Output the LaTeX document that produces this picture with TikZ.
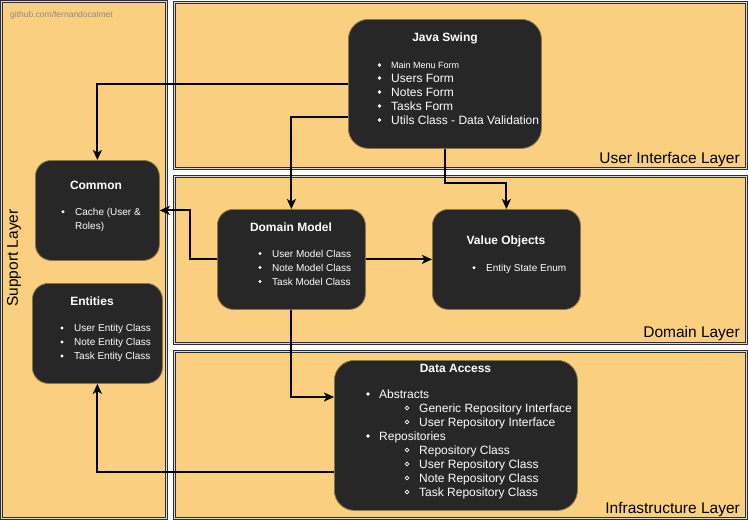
\documentclass[tikz,border=0pt]{standalone}
\usepackage{fontspec}
\setmainfont{Liberation Sans}
\usetikzlibrary{arrows.meta}
\definecolor{layerfill}{HTML}{FAD080}
\definecolor{layerdraw}{HTML}{2E2E2E}
\definecolor{layerinner}{HTML}{D8D8D8}
\definecolor{boxfill}{HTML}{272727}
\definecolor{boxdraw}{HTML}{8A7548}
\definecolor{gh}{HTML}{8A8A8A}
\tikzset{
  layerbox/.style={draw=layerdraw, line width=0.8pt, double=layerinner, double distance=0.7pt, fill=layerfill, inner sep=0pt, anchor=north west},
  darkbox/.style={draw=boxdraw, line width=0.8pt, fill=boxfill, rounded corners=16pt, inner sep=0pt, anchor=north west},
  titletext/.style={text=white, inner sep=0pt, font=\bfseries\fontsize{12}{14}\selectfont},
  itemL/.style={text=white, inner sep=0pt, anchor=base west, font=\fontsize{12}{14}\selectfont},
  itemS/.style={text=white, inner sep=0pt, anchor=base west, font=\fontsize{10}{12}\selectfont},
  itemXS/.style={text=white, inner sep=0pt, anchor=base west, font=\fontsize{9}{11}\selectfont},
  layerlabel/.style={inner sep=0pt, font=\fontsize{15.5}{18}\selectfont},
  conn/.style={line width=1.9pt, -{Stealth[length=10pt,width=9pt,inset=2.5pt]}},
  dotb/.style={fill=white},
  ringb/.style={draw=white, line width=0.6pt},
}
\begin{document}
\begin{tikzpicture}[x=1pt,y=-1pt]
\useasboundingbox (0,0) rectangle (748,520);
% layers
\node[layerbox, minimum width=165pt, minimum height=517pt] (support) at (1,1) {};
\node[layerbox, minimum width=572pt, minimum height=166pt] (uil) at (174,2) {};
\node[layerbox, minimum width=572pt, minimum height=167pt] (dol) at (174,176) {};
\node[layerbox, minimum width=572pt, minimum height=167pt] (infl) at (174,351) {};
\node[layerlabel, anchor=base east] (uilab) at (740,163) {User Interface Layer};
\node[layerlabel, anchor=base east] (dolab) at (740,337) {Domain Layer};
\node[layerlabel, anchor=base east] (inflab) at (740,513) {Infrastructure Layer};
\node[layerlabel, rotate=90] (suplab) at (14,258) {Support Layer};
\node[inner sep=0pt, anchor=base west, text=gh, font=\fontsize{8.5}{10}\selectfont] (gh) at (10,17) {github.com/fernandocalmet};

% boxes
\node[darkbox, rounded corners=20pt, minimum width=193pt, minimum height=129pt] (js) at (348,19) {};
\node[darkbox, minimum width=124pt, minimum height=100pt] (com) at (35,160) {};
\node[darkbox, minimum width=130pt, minimum height=100pt] (ent) at (32,283) {};
\node[darkbox, minimum width=148pt, minimum height=100pt] (dm) at (217,209) {};
\node[darkbox, minimum width=148pt, minimum height=100pt] (vo) at (432,209) {};
\node[darkbox, rounded corners=20pt, minimum width=243pt, minimum height=150pt] (da) at (334,360) {};

% Java Swing
\node[titletext] (jst) at (445,38) {Java Swing};
\node[itemXS] (js1) at (391,68.2) {Main Menu Form};
\node[itemL] (js2) at (391,82) {Users Form};
\node[itemL] (js3) at (391,96) {Notes Form};
\node[itemL] (js4) at (391,110) {Tasks Form};
\node[itemL] (js5) at (391,124) {Utils Class - Data Validation};
\foreach \yy in {65,78,92,106,120} \fill[dotb] (379.5,\yy) circle (1.8pt);

% Common
\node[titletext] (comt) at (96,185) {Common};
\node[itemS] (com1) at (75,215.3) {Cache (User \&};
\node[itemS] (com2) at (75,229.3) {Roles)};
\fill[dotb] (63,211.7) circle (1.6pt);

% Entities
\node[titletext] (entt) at (92,301) {Entities};
\node[itemS] (ent1) at (74,331.6) {User Entity Class};
\node[itemS] (ent2) at (74,345.6) {Note Entity Class};
\node[itemS] (ent3) at (74,359.6) {Task Entity Class};
\foreach \yy in {328,342,356} \fill[dotb] (62,\yy) circle (1.6pt);

% Domain Model
\node[titletext] (dmt) at (291,227) {Domain Model};
\node[itemS] (dm1) at (272,257) {User Model Class};
\node[itemS] (dm2) at (272,271) {Note Model Class};
\node[itemS] (dm3) at (272,285) {Task Model Class};
\foreach \yy in {253.5,267.5,281.5} \fill[dotb] (260,\yy) circle (1.6pt);

% Value Objects
\node[titletext] (vot) at (506,241) {Value Objects};
\node[itemS] (vo1) at (486,271.3) {Entity State Enum};
\fill[dotb] (474,267.7) circle (1.6pt);

% Data Access
\node[titletext] (dat) at (455.5,368) {Data Access};
\node[itemL] (da1) at (379,398) {Abstracts};
\node[itemL] (da2) at (419,412) {Generic Repository Interface};
\node[itemL] (da3) at (419,426) {User Repository Interface};
\node[itemL] (da4) at (379,440) {Repositories};
\node[itemL] (da5) at (419,454) {Repository Class};
\node[itemL] (da6) at (419,468) {User Repository Class};
\node[itemL] (da7) at (419,482) {Note Repository Class};
\node[itemL] (da8) at (419,496) {Task Repository Class};
\foreach \yy in {394,436} \fill[dotb] (368,\yy) circle (1.8pt);
\foreach \yy in {408,422,450,464,478,492} \draw[ringb] (407,\yy) circle (1.9pt);

% helper coordinates
\coordinate (c117) at (0,117);
\coordinate (c183) at (0,183);
\coordinate (c190) at (190,0);
\coordinate (c397) at (0,397);
\coordinate (c472) at (0,472);

% connectors
\draw[conn] (js.west) -| (com.north);
\draw[conn] (js.west |- c117) -| (dm.north);
\draw[conn] (js.south) -- (js.south |- c183) -| (vo.north);
\draw[conn] (dm.west) -- (c190 |- dm.west) |- (com.east);
\draw[conn] (dm.east) -- (vo.west);
\draw[conn] (dm.south) |- (da.west |- c397);
\draw[conn] (da.west |- c472) -| (ent.south);
\end{tikzpicture}
\end{document}
